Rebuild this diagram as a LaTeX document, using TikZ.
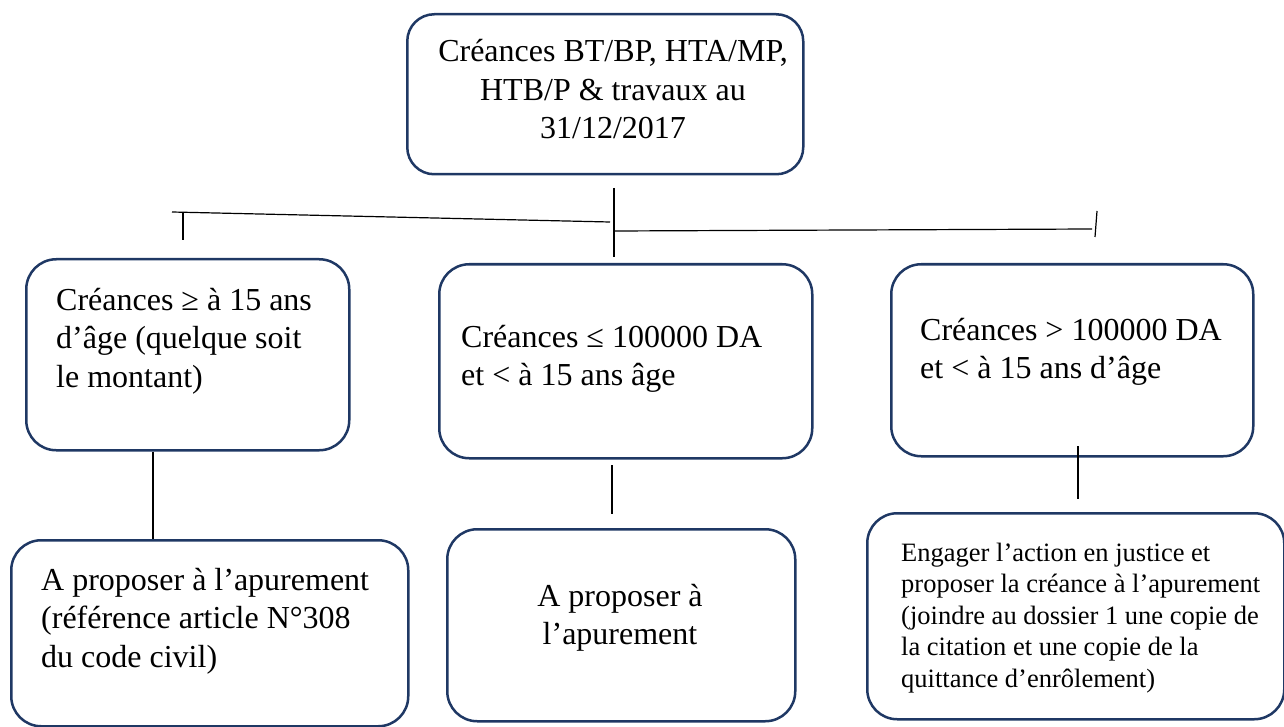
\documentclass[tikz,border=0pt]{standalone}
\usepackage{fontspec}
\setmainfont{Liberation Serif}
\definecolor{boxnavy}{RGB}{31,56,100}
\newcommand\txtleft[1]{\begin{tabular}[t]{@{}l@{}}#1\end{tabular}}
\newcommand\txtcenter[1]{\begin{tabular}[t]{@{}c@{}}#1\end{tabular}}
\begin{document}
\begin{tikzpicture}[x=1pt,y=-1pt,
  card/.style={draw=boxnavy, line width=2.5pt, rounded corners=30pt,
    anchor=north west, inner sep=0pt, fill=white},
  big/.style={font=\fontsize{32}{38.5}\selectfont, inner sep=0pt},
  small/.style={font=\fontsize{26.5}{31.5}\selectfont, inner sep=0pt},
  link/.style={draw=black, line width=1.2pt}]
\useasboundingbox (0,0) rectangle (1284,727);

% boxes
\node[card, rounded corners=27pt, minimum width=396pt, minimum height=160pt] (top) at (406,13) {};
\node[card, minimum width=323pt, minimum height=191pt] (ml) at (25,258) {};
\node[card, minimum width=373pt, minimum height=194pt] (mc) at (438,263) {};
\node[card, minimum width=362pt, minimum height=192pt] (mr) at (890,263) {};
\node[card, minimum width=397pt, minimum height=186pt] (bl) at (10,539) {};
\node[card, minimum width=348pt, minimum height=192pt] (bc) at (446,528) {};
\node[card, minimum width=417pt, minimum height=206pt] (br) at (866,512) {};

% texts
\node[big, anchor=base] (ttop) at (613,62)
  {\txtcenter{Créances BT/BP, HTA/MP,\\ HTB/P \& travaux au\\ 31/12/2017}};
\node[big, anchor=base west] (tml) at (56,310)
  {\txtleft{Créances ≥ à 15 ans\\ d’âge (quelque soit\\ le montant)}};
\node[big, anchor=base west] (tmc) at (461,347)
  {\txtleft{Créances ≤ 100000 DA\\ et < à 15 ans âge}};
\node[big, anchor=base west] (tmr) at (920,340)
  {\txtleft{Créances > 100000 DA\\ et < à 15 ans d’âge}};
\node[big, anchor=base west] (tbl) at (41,590)
  {\txtleft{A proposer à l’apurement\\ (référence article N°308\\ du code civil)}};
\node[big, anchor=base] (tbc) at (620,606)
  {\txtcenter{A proposer à\\ l’apurement}};
\node[small, anchor=base west] (tbr) at (901,561)
  {\txtleft{Engager l’action en justice et\\ proposer la créance à l’apurement\\ (joindre au dossier 1 une copie de\\ la citation et une copie de la\\ quittance d’enrôlement)}};

% branching lines
\coordinate (hubtop) at (614,188);
\coordinate (hubbot) at (614,257);
\coordinate (lA) at (172,212);
\coordinate (lB) at (610,222);
\coordinate (lTa) at (183,212);
\coordinate (lTb) at (183,240);
\coordinate (rA) at (614,231);
\coordinate (rB) at (1092,229);
\coordinate (rTa) at (1097,211);
\coordinate (rTb) at (1095,237);
\draw[link] (hubtop) -- (hubbot);
\draw[link] (lA) -- (lB);
\draw[link] (lTa) -- (lTb);
\draw[link] (rA) -- (rB);
\draw[link] (rTa) -- (rTb);

% vertical links to the lower boxes
\coordinate (xl) at (153,0);
\draw[link] (ml.south -| xl) -- (bl.north -| xl);
\coordinate (mA) at (612,465);
\coordinate (mB) at (612,514);
\draw[link] (mA) -- (mB);
\coordinate (rcA) at (1078,446);
\coordinate (rcB) at (1078,499);
\draw[link] (rcA) -- (rcB);
\end{tikzpicture}
\end{document}
